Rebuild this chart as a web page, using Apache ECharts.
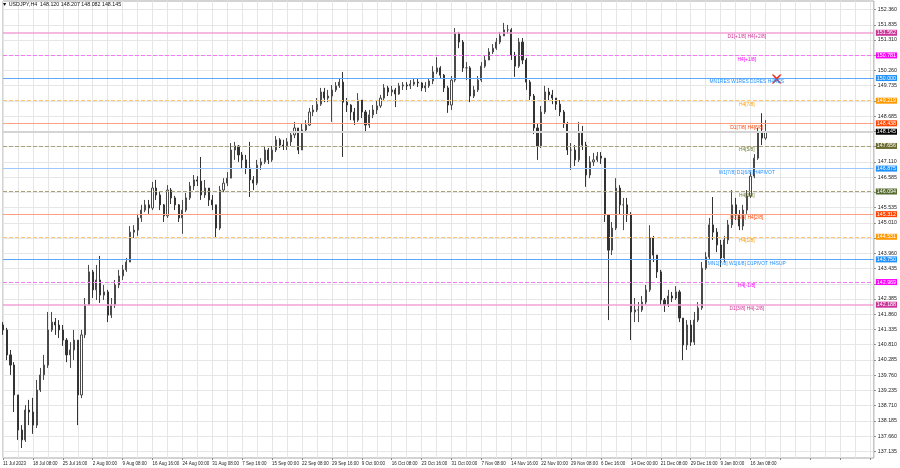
<!DOCTYPE html>
<html><head><meta charset="utf-8">
<script src="https://cdn.jsdelivr.net/npm/echarts@6/dist/echarts.min.js"></script>
<style>html,body{margin:0;padding:0;background:#fff}#c{width:900px;height:468px}</style>
</head><body><div id="c"></div>
<script>
// ---- data (each candle = 4 H4 bars) ----
const titleText = '\u25BC USDJPY,H4  148.120 148.207 148.082 148.145';
const xTickLabels = ['11 Jul 2023','18 Jul 08:00','25 Jul 16:00','2 Aug 00:00','9 Aug 08:00','16 Aug 16:00','24 Aug 00:00','31 Aug 08:00','7 Sep 16:00','15 Sep 00:00','22 Sep 08:00','29 Sep 16:00','9 Oct 00:00','16 Oct 08:00','23 Oct 16:00','31 Oct 00:00','7 Nov 08:00','14 Nov 16:00','22 Nov 00:00','29 Nov 08:00','6 Dec 16:00','14 Dec 00:00','21 Dec 08:00','29 Dec 16:00','9 Jan 00:00','16 Jan 08:00'];
const yTickValues = [137.135,137.660,138.185,138.710,139.235,139.760,140.285,140.810,141.335,141.860,142.385,142.910,143.435,143.960,144.485,145.010,145.535,146.060,146.585,147.110,147.635,148.160,148.685,149.210,149.735,150.260,150.785,151.310,151.835,152.360];
const yLabelValues = [137.135,137.660,138.185,138.710,139.235,139.760,140.285,140.810,141.335,141.860,142.385,143.435,143.960,145.010,145.535,146.585,147.110,148.685,149.735,150.260,151.310,151.835,152.360];

const open = [
141.49,141.32,140.46,140.11,139.08,137.87,137.53,138.56,138.49,138.04,
139.25,139.77,140.11,141.32,141.59,141.49,141.32,140.97,140.46,140.63,
140.97,139.08,141.15,142.18,143.32,142.70,143.04,142.52,142.63,141.83,
142.18,142.87,143.18,143.39,143.66,144.69,144.76,145.18,145.45,145.63,
145.52,146.21,145.97,145.63,145.25,146.14,145.87,145.63,145.18,145.45,
145.87,146.28,146.49,146.45,145.97,146.21,145.80,145.63,144.83,146.14,
146.38,146.55,147.52,147.66,147.35,147.18,146.90,146.49,146.38,147.00,
147.11,147.52,147.18,147.52,147.87,147.69,147.66,147.80,148.04,148.28,
147.52,148.21,148.38,148.83,148.90,149.10,149.52,149.31,149.38,149.59,
149.73,149.86,149.17,149.07,148.83,148.55,149.24,148.83,148.38,148.73,
148.90,149.04,149.31,149.66,149.52,149.59,149.45,149.73,149.76,149.73,
149.79,149.86,149.83,149.66,149.73,149.90,150.21,150.35,150.10,149.66,
149.07,149.93,151.55,151.24,150.35,150.35,149.38,149.59,149.93,150.41,
150.62,150.90,151.03,151.24,151.45,151.66,151.66,150.79,150.41,151.24,
150.62,149.86,149.38,148.28,147.66,148.83,149.52,149.42,149.31,149.10,
148.83,148.42,147.52,147.52,147.18,148.14,147.69,146.66,147.11,147.18,
147.31,147.24,145.28,144.07,144.83,146.21,145.63,145.63,145.28,141.94,
142.01,142.01,142.28,142.70,144.49,143.90,143.32,142.35,142.18,142.49,
142.42,142.63,141.73,140.80,141.49,140.90,141.66,142.08,143.45,143.83,
144.94,144.69,144.25,143.80,144.42,144.94,145.63,145.28,144.90,145.45,
145.94,146.62,147.24,148.14,147.93];
const close = [
141.32,140.46,140.11,139.08,137.87,137.53,138.56,138.49,138.04,139.25,
139.77,140.11,141.32,141.59,141.49,141.32,140.97,140.46,140.63,140.97,
139.08,141.15,142.18,143.32,142.70,143.04,142.52,142.63,141.83,142.18,
142.87,143.18,143.39,143.66,144.69,144.76,145.18,145.45,145.63,145.52,
146.21,145.97,145.63,145.25,146.14,145.87,145.63,145.18,145.45,145.87,
146.28,146.49,146.45,145.97,146.21,145.80,145.63,144.83,146.14,146.38,
146.55,147.52,147.66,147.35,147.18,146.90,146.49,146.38,147.00,147.11,
147.52,147.18,147.52,147.87,147.69,147.66,147.80,148.04,148.28,147.52,
148.21,148.38,148.83,148.90,149.10,149.52,149.31,149.38,149.59,149.73,
149.86,149.17,149.07,148.83,148.55,149.24,148.83,148.38,148.73,148.90,
149.04,149.31,149.66,149.52,149.59,149.45,149.73,149.76,149.73,149.79,
149.86,149.83,149.66,149.73,149.90,150.21,150.35,150.10,149.66,149.07,
149.93,151.55,151.24,150.35,150.35,149.38,149.59,149.93,150.41,150.62,
150.90,151.03,151.24,151.45,151.66,151.66,150.79,150.41,151.24,150.62,
149.86,149.38,148.28,147.66,148.83,149.52,149.42,149.31,149.10,148.83,
148.42,147.52,147.52,147.18,148.14,147.69,146.66,147.11,147.18,147.31,
147.24,145.28,144.07,144.83,146.21,145.63,145.63,145.28,141.94,142.01,
142.01,142.28,142.70,144.49,143.90,143.32,142.35,142.18,142.49,142.42,
142.63,141.73,140.80,141.49,140.90,141.66,142.08,143.45,143.83,144.94,
144.69,144.25,143.80,144.42,144.94,145.63,145.28,144.90,145.45,145.94,
146.62,147.24,148.14,147.93,148.145];
const high = [
141.59,141.39,140.63,140.21,139.08,138.04,138.73,138.91,138.98,139.60,
140.01,140.46,141.94,141.94,141.73,141.66,141.49,141.04,140.90,141.32,
140.97,141.32,142.42,143.56,143.39,143.56,143.87,142.87,142.70,142.42,
143.04,143.39,143.56,143.80,144.90,144.93,145.32,145.63,145.80,145.80,
146.42,146.49,146.07,145.66,146.31,146.21,145.94,145.66,145.80,146.04,
146.42,146.66,146.62,147.28,146.49,146.21,145.97,145.63,146.28,146.55,
146.76,147.76,147.80,147.69,147.45,147.35,147.80,146.62,147.18,147.24,
147.66,147.59,147.66,148.00,147.93,147.87,147.93,148.14,148.49,148.28,
148.42,148.55,148.97,149.07,149.31,149.66,149.66,149.59,149.76,149.86,
150.00,150.21,149.31,149.10,148.97,149.48,149.24,148.90,148.90,149.07,
149.24,149.42,149.79,149.73,149.73,149.66,149.83,149.86,149.86,149.93,
149.97,149.97,149.86,149.86,150.00,150.41,150.72,150.41,150.14,149.73,
150.07,151.72,151.59,151.31,150.55,150.41,149.73,150.07,150.55,150.76,
151.03,151.17,151.38,151.59,151.90,151.83,151.72,150.90,151.38,151.38,
150.69,149.93,149.45,148.42,149.04,149.73,149.66,149.59,149.31,149.24,
148.90,148.49,147.76,147.69,148.49,148.35,147.80,147.31,147.42,147.45,
147.45,147.24,145.28,145.04,146.55,146.31,145.87,145.87,145.38,142.42,
142.28,142.49,142.87,144.93,144.56,143.90,143.39,142.42,142.70,142.63,
142.83,142.70,141.73,141.66,141.66,141.94,142.28,143.66,144.00,145.18,
145.90,144.83,144.42,144.56,145.11,146.14,145.87,145.45,145.63,146.14,
146.76,147.38,148.28,148.79,148.55];
const low = [
141.15,140.28,139.77,138.49,137.53,137.25,137.46,138.04,137.74,137.94,
139.18,139.60,140.01,141.25,141.15,141.04,140.77,140.21,140.01,140.28,
138.04,138.97,141.04,142.18,142.42,142.35,142.25,142.35,141.59,141.73,
142.08,142.76,143.04,143.32,143.66,144.49,144.56,145.04,145.38,145.32,
145.45,145.80,145.45,145.04,145.18,145.66,145.45,145.04,144.63,145.38,
145.80,146.14,146.28,145.80,145.87,145.59,145.45,144.49,144.76,146.07,
146.28,146.55,147.18,147.11,146.90,146.69,145.90,146.14,146.31,146.83,
147.04,147.04,147.11,147.45,147.59,147.52,147.52,147.66,147.93,147.38,
147.52,148.14,148.35,148.69,148.83,149.04,149.17,149.17,148.49,149.52,
149.66,147.28,148.83,148.55,148.38,148.49,148.62,148.14,148.28,148.62,
148.76,148.97,149.24,149.38,149.38,149.00,149.42,149.59,149.59,149.62,
149.73,149.69,149.55,149.52,149.66,149.79,150.14,150.00,149.52,148.80,
148.90,149.86,151.03,150.21,149.93,149.17,149.31,149.52,149.86,150.35,
150.62,150.83,150.97,151.17,151.45,151.52,150.62,150.04,150.35,150.48,
149.59,149.24,148.07,147.18,147.59,148.76,149.24,149.10,148.90,148.69,
148.28,147.35,146.83,146.97,147.11,147.52,146.25,146.55,146.97,147.11,
147.04,145.04,141.66,143.90,144.76,145.28,144.76,145.04,140.97,141.59,
141.59,141.94,142.18,142.63,143.66,143.11,142.18,141.94,142.11,142.28,
142.35,141.59,140.28,140.63,140.77,140.80,141.59,142.01,143.39,143.73,
144.42,144.00,143.49,143.66,144.28,144.83,145.11,144.76,144.76,145.32,
145.87,146.55,147.18,147.69,147.87];

const levelValues = [151.562,150.781,150.000,149.219,148.438,147.656,146.875,146.094,145.312,144.531,143.750,142.969,142.188];
const levelNames = ['D1[+1/8] H4[+2/8]','H4[+1/8]','MN1RES W1RES D1RES H4RES','H4[7/8]','D1[7/8] H4[6/8]','H4[5/8]','W1[7/8] D1[6/8] H4PIVOT','H4[3/8]','D1[5/8] H4[2/8]','H4[1/8]','MN1[7/8] W1[6/8] D1PIVOT H4SUP','H4[-1/8]','D1[3/8] H4[-2/8]'];
const currentPrice = 148.145;
const closedTradeMark = [207, 149.97]; // [bar slot, price] of the red cross

// ---- styles (kept apart from the data) ----
const lineColors = ['#f2a2d4','#f27af2','#5aa8ff','#ffc878','#ff9f80','#aaa27a','#9ccaff','#aaa27a','#ff9f80','#ffc878','#5aa8ff','#f27af2','#f2a2d4'];
const lineTypes  = ['solid','dashed','solid','dashed','solid','dashed','solid','dashed','solid','dashed','solid','dashed','solid'];
const tagColors  = ['#cc3399','#ff00ff','#1e90ff','#ff9900','#ff4500','#6b6b2f','#1e90ff','#556b2f','#ff4500','#ff9900','#1e90ff','#ff00ff','#cc3399'];
const textColors = ['#cc3399','#ff00ff','#1e90ff','#ff9900','#ff4500','#6b7a2f','#1e90ff','#6b7a2f','#ff4500','#ff9900','#1e90ff','#ff00ff','#cc3399'];

const SLOTS = 234;
const cats = Array.from({length: SLOTS}, (_, i) => String(i));
const candles = open.map((o, i) => [o, close[i], low[i], high[i]]);
const FONT = 'Liberation Sans';

const markLineData = levelValues.map((v, i) => ({
  yAxis: v,
  lineStyle: {color: lineColors[i], type: lineTypes[i], width: i === 0 || i === 12 ? 1.6 : 1},
  label: {show: true, position: 'end', distance: 2, formatter: v.toFixed(3), color: '#fff',
    backgroundColor: tagColors[i], padding: [1, 1, 0, 1], fontSize: 5.3, fontFamily: FONT}
}));
markLineData.push({
  yAxis: currentPrice,
  lineStyle: {color: '#d4d4d4', type: 'solid', width: 2},
  label: {show: true, position: 'end', distance: 2, formatter: currentPrice.toFixed(3), color: '#fff',
    backgroundColor: '#000', padding: [1, 1, 0, 1], fontSize: 5.3, fontFamily: FONT}
});

const markPointData = levelValues.map((v, i) => ({
  coord: [199, v], symbol: 'rect', symbolSize: 0.01, itemStyle: {color: 'rgba(0,0,0,0)'},
  label: {show: true, position: 'inside', offset: [0, 4], formatter: levelNames[i], color: textColors[i],
    fontSize: 4.9, fontFamily: FONT}
}));
markPointData.push({
  coord: closedTradeMark, symbol: 'path://M0,0 L2,0 L5,3 L8,0 L10,0 L6,4.5 L10,9 L8,9 L5,6 L2,9 L0,9 L4,4.5 Z',
  symbolSize: [10, 9], itemStyle: {color: '#e8322a'}, label: {show: false}
});

const chart = echarts.init(document.getElementById('c'), null, {renderer: 'canvas'});
chart.setOption({
  animation: false,
  backgroundColor: '#ffffff',
  title: {text: titleText, left: 2, top: 2, padding: 0, textStyle: {fontSize: 5.3, fontWeight: 'normal', color: '#111', fontFamily: FONT}},
  grid: {left: 2, right: 24.25, top: 1, bottom: 10, show: true, borderColor: '#a8a8a8', borderWidth: 1},
  xAxis: {
    type: 'category', data: cats, boundaryGap: false,
    axisLine: {show: false},
    axisTick: {show: true, interval: 7, length: 2, lineStyle: {color: '#888'}},
    axisLabel: {interval: 7, align: 'left', margin: 3, fontSize: 4.5, color: '#222', fontFamily: FONT,
      formatter: (v, idx) => xTickLabels[idx / 8] || ''},
    splitLine: {show: true, interval: 3, lineStyle: {color: '#e6e6e6', width: 1}}
  },
  yAxis: {
    type: 'value', position: 'right', min: 136.907, max: 152.655, scale: true,
    axisLine: {show: false},
    axisTick: {show: true, length: 2, customValues: yTickValues, lineStyle: {color: '#888'}},
    axisLabel: {customValues: yLabelValues, margin: 4, fontSize: 5.3, color: '#222', fontFamily: FONT,
      formatter: v => v.toFixed(3)},
    splitLine: {show: true, lineStyle: {color: '#e6e6e6', width: 1}}
  },
  series: [{
    type: 'candlestick', data: candles, barWidth: 1.6,
    itemStyle: {color: '#ffffff', color0: '#333333', borderColor: '#4a4a4a', borderColor0: '#333333', borderWidth: 1},
    markLine: {silent: true, symbol: ['none', 'none'], data: markLineData, animation: false},
    markPoint: {silent: true, data: markPointData, animation: false}
  }]
});
</script></body></html>
